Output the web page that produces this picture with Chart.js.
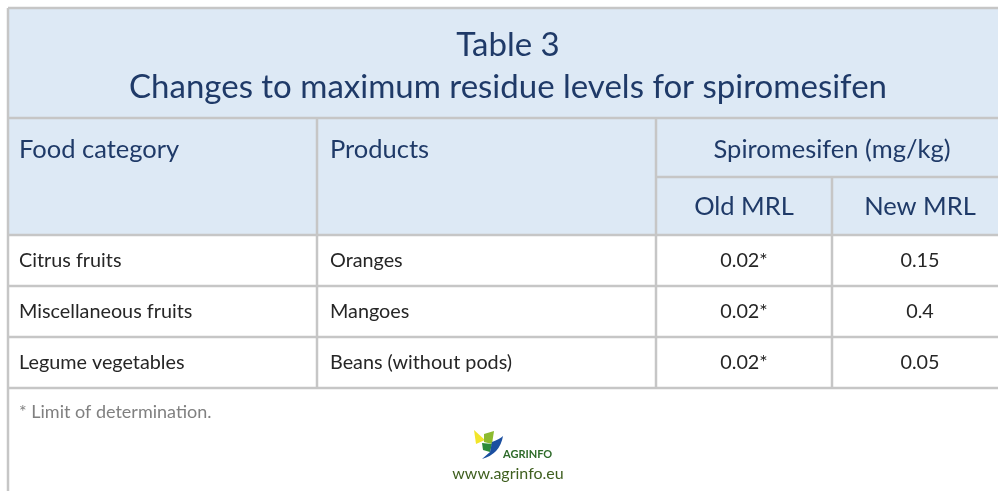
<!DOCTYPE html>
<html><head><meta charset="utf-8">
<script src="https://cdn.jsdelivr.net/npm/chart.js@4"></script>
<style>html,body{margin:0;padding:0;background:#fff;overflow:hidden}canvas{display:block}</style>
</head><body>
<canvas id="c" width="998" height="491"></canvas>
<script>
// ---- data ----
const titleLines = ["Table 3", "Changes to maximum residue levels for spiromesifen"];
const headerCols = ["Food category", "Products"];
const groupHeader = "Spiromesifen (mg/kg)";
const subHeaders = ["Old MRL", "New MRL"];
const categories = ["Citrus fruits", "Miscellaneous fruits", "Legume vegetables"];
const products = ["Oranges", "Mangoes", "Beans (without pods)"];
const oldMRL = ["0.02*", "0.02*", "0.02*"];
const newMRL = ["0.15", "0.4", "0.05"];
const footnote = "* Limit of determination.";
const siteUrl = "www.agrinfo.eu";

// ---- layout (table geometry in scale units) ----
const colEdges = [8, 317, 656, 832, 1008];
const titleBottom = 118, subHeadTop = 177, headBottom = 235, rowH = 51;
const FONT = "Lato, 'Open Sans', sans-serif";
const NAVY = "#1f3a68", GRID = "#c6c6c6", HEADBG = "#dde9f5";

const tablePlugin = {
  id: 'tablePlugin',
  beforeDraw(chart) {
    const ctx = chart.ctx, X = chart.scales.x, Y = chart.scales.y;
    const px = v => X.getPixelForValue(v), py = v => Y.getPixelForValue(v);
    const right = px(colEdges[colEdges.length - 1]);
    const nRows = categories.length;
    const tableBottom = headBottom + rowH * nRows;
    ctx.save();
    ctx.fillStyle = '#fff'; ctx.fillRect(0, 0, chart.width, chart.height);
    // header background
    ctx.fillStyle = HEADBG;
    ctx.fillRect(px(colEdges[0]), py(8), right - px(colEdges[0]), py(headBottom) - py(8));
    // grid lines
    ctx.strokeStyle = GRID; ctx.lineWidth = 2.5;
    const hl = (y, x0, x1) => { ctx.beginPath(); ctx.moveTo(px(x0), py(y)); ctx.lineTo(px(x1), py(y)); ctx.stroke(); };
    const vl = (x, y0, y1) => { ctx.beginPath(); ctx.moveTo(px(x), py(y0)); ctx.lineTo(px(x), py(y1)); ctx.stroke(); };
    hl(8, 8, 1008);
    hl(titleBottom, 8, 1008);
    hl(subHeadTop, colEdges[2], 1008);
    for (let i = 0; i <= nRows; i++) hl(headBottom + rowH * i, 8, 1008);
    vl(8, 8, 491);
    vl(colEdges[1], titleBottom, tableBottom);
    vl(colEdges[2], titleBottom, tableBottom);
    vl(colEdges[3], subHeadTop, tableBottom);
    // title
    ctx.fillStyle = NAVY; ctx.textAlign = 'center'; ctx.textBaseline = 'middle';
    ctx.font = "33px " + FONT;
    const cx = px((colEdges[0] + colEdges[4]) / 2);
    ctx.fillText(titleLines[0], cx, py(45));
    ctx.fillText(titleLines[1], cx, py(87));
    // headers
    ctx.font = "25.5px " + FONT; ctx.textAlign = 'left';
    ctx.fillText(headerCols[0], px(19), py(150));
    ctx.fillText(headerCols[1], px(330), py(150));
    ctx.textAlign = 'center';
    ctx.fillText(groupHeader, px((colEdges[2] + colEdges[4]) / 2), py(150));
    ctx.fillText(subHeaders[0], px((colEdges[2] + colEdges[3]) / 2), py(207));
    ctx.fillText(subHeaders[1], px((colEdges[3] + colEdges[4]) / 2), py(207));
    // body
    ctx.fillStyle = "#262626"; ctx.font = "19.8px " + FONT;
    for (let i = 0; i < nRows; i++) {
      const yc = py(headBottom + rowH * i + rowH / 2);
      ctx.textAlign = 'left';
      ctx.fillText(categories[i], px(19), yc);
      ctx.fillText(products[i], px(330), yc);
      ctx.textAlign = 'center';
      ctx.fillText(oldMRL[i], px((colEdges[2] + colEdges[3]) / 2), yc);
      ctx.fillText(newMRL[i], px((colEdges[3] + colEdges[4]) / 2), yc);
    }
    // footnote
    ctx.fillStyle = "#808080"; ctx.font = "18px " + FONT; ctx.textAlign = 'left';
    ctx.fillText(footnote, px(19), py(412));
    // logo
    const lx = px(470), ly = py(428);
    ctx.fillStyle = "#f2e52a";
    ctx.beginPath(); ctx.moveTo(lx + 4, ly + 2); ctx.lineTo(lx + 15, ly + 12); ctx.lineTo(lx + 6, ly + 16); ctx.closePath(); ctx.fill();
    ctx.fillStyle = "#8dbb2f";
    ctx.beginPath(); ctx.moveTo(lx + 14, ly + 6); ctx.lineTo(lx + 24, ly + 3); ctx.lineTo(lx + 22, ly + 16); ctx.lineTo(lx + 14, ly + 14); ctx.closePath(); ctx.fill();
    ctx.fillStyle = "#2c8a3a";
    ctx.beginPath(); ctx.moveTo(lx + 12, ly + 15); ctx.lineTo(lx + 22, ly + 16); ctx.lineTo(lx + 20, ly + 24); ctx.lineTo(lx + 13, ly + 22); ctx.closePath(); ctx.fill();
    ctx.fillStyle = "#1b4fa0";
    ctx.beginPath(); ctx.moveTo(lx + 22, ly + 14); ctx.quadraticCurveTo(lx + 30, ly + 11, lx + 33, ly + 8);
    ctx.quadraticCurveTo(lx + 30, ly + 26, lx + 12, ly + 31); ctx.lineTo(lx + 20, ly + 24); ctx.closePath(); ctx.fill();
    ctx.fillStyle = "#2f6b2a"; ctx.font = "bold 11px " + FONT; ctx.textAlign = 'left';
    ctx.fillText("AGRINFO", lx + 33, py(454));
    ctx.fillStyle = "#3f5f1f"; ctx.font = "16px " + FONT; ctx.textAlign = 'center';
    ctx.fillText(siteUrl, px(508), py(474));
    ctx.restore();
  }
};

new Chart(document.getElementById('c'), {
  type: 'scatter',
  data: { datasets: [{ data: [] }] },
  options: {
    responsive: false, animation: false,
    layout: { padding: 0 },
    plugins: { legend: { display: false }, tooltip: { enabled: false }, title: { display: false } },
    scales: {
      x: { type: 'linear', min: 0, max: 998, display: false },
      y: { type: 'linear', min: 0, max: 491, reverse: true, display: false }
    }
  },
  plugins: [tablePlugin]
});
</script>
</body></html>
